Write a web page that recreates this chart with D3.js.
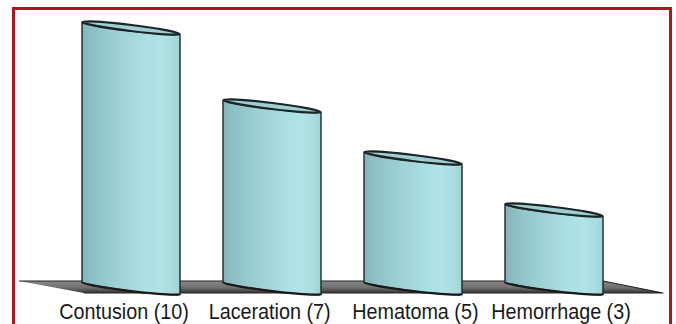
<!DOCTYPE html>
<html>
<head>
<meta charset="utf-8">
<script src="https://cdn.jsdelivr.net/npm/d3@7"></script>
<style>
  html, body { margin: 0; padding: 0; background: #fff; }
  svg { display: block; }
</style>
</head>
<body>
<svg id="chart" width="676" height="324"></svg>
<script>
// Injury types and their counts
const categories = ["Contusion", "Laceration", "Hematoma", "Hemorrhage"];
const counts = [10, 7, 5, 3];
const labels = ["Contusion (10)", "Laceration (7)", "Hematoma (5)", "Hemorrhage (3)"];

const W = 676, H = 324;
const svg = d3.select("#chart");
const defs = svg.append("defs");

// Cylinder body shading: darker on the left, pale in the middle-right
const body = defs.append("linearGradient").attr("id", "bodyGrad")
  .attr("x1", "0%").attr("x2", "100%").attr("y1", "0%").attr("y2", "0%");
[
  [0, "#82b4ba"], [0.08, "#8bbdc3"], [0.2, "#94c7cc"], [0.35, "#9dd0d4"],
  [0.5, "#a5d7db"], [0.65, "#ace0e4"], [0.8, "#b1e3e7"], [0.92, "#abdde0"], [1, "#a0d1d5"]
].forEach(([o, c]) => body.append("stop").attr("offset", o).attr("stop-color", c));

const floorGrad = defs.append("linearGradient").attr("id", "floorGrad")
  .attr("x1", "0%").attr("x2", "0%").attr("y1", "0%").attr("y2", "100%");
[[0, "#888888"], [0.55, "#707070"], [1, "#333333"]]
  .forEach(([o, c]) => floorGrad.append("stop").attr("offset", o).attr("stop-color", c));

// Frame
svg.append("rect")
  .attr("x", 13.5).attr("y", 8.5)
  .attr("width", 657).attr("height", 340)
  .attr("fill", "#fff")
  .attr("stroke", "#b0141c").attr("stroke-width", 3);

const x = d3.scaleBand().domain(categories).range([82, 603]).paddingInner(0.305).paddingOuter(0);
const y = d3.scaleLinear().domain([0, 10]).range([288, 28]);
const labelX = d3.scalePoint().domain(categories).range([124, 561]);

const tilt = 7;                       // degrees of the elliptical caps
const rad = tilt * Math.PI / 180;
const rx = x.bandwidth() / 2;
const ry = 3;
const dy = rx * Math.sin(rad);

// Floor slab
const y0 = y(0);
const floor = d3.line()([
  [19, y0 - 7], [x.range()[1], y0 - 7], [663, y0 + 5], [x.range()[0] + 2, y0 + 5]
]);
svg.append("path").attr("d", floor)
  .attr("fill", "url(#floorGrad)")
  .attr("stroke", "#222").attr("stroke-width", 1.2).attr("stroke-linejoin", "round");

const bars = svg.append("g").selectAll("g")
  .data(categories.map((c, i) => ({ c, v: counts[i] })))
  .join("g");

// Cylinder body: left edge, lower half of base ellipse, right edge, lower half of cap ellipse
bars.append("path")
  .attr("d", d => {
    const xl = x(d.c), xr = x(d.c) + x.bandwidth();
    const yt = y(d.v), yb = y(0);
    return `M${xl},${yt - dy} L${xl},${yb - dy} ` +
      `A${rx},${ry} ${tilt} 0 0 ${xr},${yb + dy} ` +
      `L${xr},${yt + dy} ` +
      `A${rx},${ry} ${tilt} 0 1 ${xl},${yt - dy} Z`;
  })
  .attr("fill", "url(#bodyGrad)")
  .attr("stroke", "#1e2628").attr("stroke-width", 1.4);

// Shadow along the base
bars.append("path")
  .attr("d", d => {
    const xl = x(d.c), xr = x(d.c) + x.bandwidth();
    const yb = y(0);
    return `M${xl},${yb - dy} A${rx},${ry} ${tilt} 0 0 ${xr},${yb + dy}`;
  })
  .attr("fill", "none").attr("stroke", "#1a1a1a").attr("stroke-width", 2.2);

// Elliptical cap
bars.append("ellipse")
  .attr("cx", d => x(d.c) + rx)
  .attr("cy", d => y(d.v))
  .attr("rx", rx).attr("ry", ry)
  .attr("transform", d => `rotate(${tilt},${x(d.c) + rx},${y(d.v)})`)
  .attr("fill", "#9fcfd3")
  .attr("stroke", "#1c2426").attr("stroke-width", 2.2);

// Category labels (condensed)
const sx = 0.9;
svg.append("g").selectAll("text")
  .data(categories)
  .join("text")
  .attr("transform", c => `translate(${labelX(c)},319) scale(${sx},1)`)
  .attr("text-anchor", "middle")
  .attr("font-family", "'Liberation Sans Narrow', 'Arial Narrow', 'Liberation Sans', Arial, sans-serif")
  .attr("font-size", 22)
  .attr("fill", "#1a1a1a")
  .text((c, i) => labels[i]);
</script>
</body>
</html>
